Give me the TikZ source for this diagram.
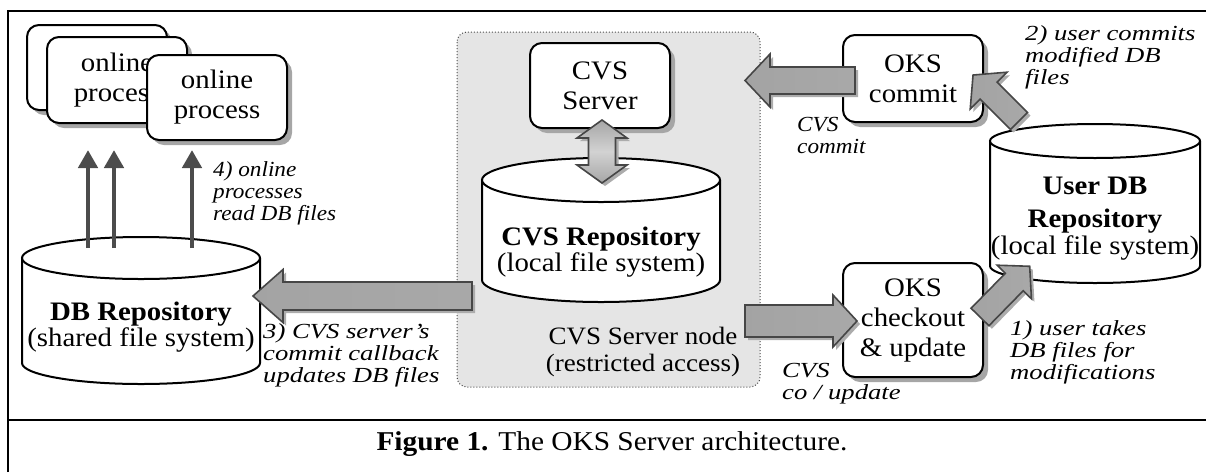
\documentclass[tikz,border=0pt]{standalone}
\usepackage{fontspec}
\setmainfont{Liberation Serif}[FakeStretch=1.08]
\newfontfamily\widefont{Liberation Serif}[FakeStretch=1.24]
\usetikzlibrary{shadows,arrows.meta}

\newcommand\mycyl[5]{% cx, rx, ytop, ybottom, ry
  \fill[white] (#1,#4) ellipse[x radius=#2, y radius=#5];
  \fill[white] (#1-#2,#3) rectangle (#1+#2,#4);
  \draw[line width=2pt] (#1-#2,#3) -- (#1-#2,#4) arc[start angle=180,end angle=0,x radius=#2,y radius=#5] -- (#1+#2,#3);
  \draw[line width=2pt,fill=white] (#1,#3) ellipse[x radius=#2, y radius=#5];
}

% fat arrow: tail x, tail y, angle, length, shaft half width, head half width, head length
\newcommand\fatarr[7]{%
  \begin{scope}[shift={(#1+3,#2+3)},rotate=#3]
    \fill[fatshadow] (0,-#5) -- (#4-#7,-#5) -- (#4-#7,-#6) -- (#4,0) -- (#4-#7,#6) -- (#4-#7,#5) -- (0,#5) -- cycle;
  \end{scope}
  \begin{scope}[shift={(#1,#2)},rotate=#3]
    \draw[fatbody] (0,-#5) -- (#4-#7,-#5) -- (#4-#7,-#6) -- (#4,0) -- (#4-#7,#6) -- (#4-#7,#5) -- (0,#5) -- cycle;
  \end{scope}}

\tikzset{
  proc/.style={draw=black, line width=2pt, fill=white, rounded corners=12pt, inner sep=0pt,
    align=center, font=\fontsize{26.7}{30}\selectfont, minimum width=140pt,
    drop shadow={shadow xshift=5pt, shadow yshift=-5pt, fill=gray!70, opacity=1}},
  lbl/.style={font=\fontsize{21.5}{22}\selectfont\itshape, align=left, inner sep=0pt, anchor=north west},
  wlbl/.style={lbl, font=\widefont\fontsize{21.5}{22}\selectfont\itshape},
  fatbody/.style={draw=gray!55!black, line width=1.6pt, line join=miter,
    left color=gray!72, middle color=gray!35, right color=gray!68},
  fatshadow/.style={fill=gray!65},
  cyltext/.style={align=center, inner sep=0pt, font=\fontsize{26.7}{23}\selectfont},
  thin/.style={draw=gray!60!black, line width=4.5pt, -{Triangle[length=18pt,width=19pt]}},
  frame/.style={line width=2.8pt},
}

\begin{document}
\begin{tikzpicture}[x=1pt,y=-1pt]
\useasboundingbox (0,0) rectangle (1206,472);
% frame
\draw[frame] (8,472) -- (8,11) -- (1206,11);
\draw[frame] (8,420) -- (1206,420);
\node[font=\fontsize{27.2}{30}\selectfont] (cap) at (612,444) {\textbf{Figure 1.} The OKS Server architecture.};

% CVS server node region
\draw[fill=gray!20, draw=gray!60!black, dotted, line width=1pt, rounded corners=10pt] (457,32) rectangle (760,387);
\node[align=center, inner sep=0pt, font=\fontsize{25}{27}\selectfont] (nodetxt) at (643,352) {CVS Server node\\(restricted access)};

% CVS server box and repository
\node[proc, minimum height=85pt] (cvss) at (600,85.5) {CVS\\Server};
\mycyl{601}{119}{180}{280}{22}
\node[cyltext] (cvsrepo) at (601,252) {\textbf{CVS Repository}\\(local file system)};
% double arrow between server and repository
\begin{scope}[shift={(605,123)}]
  \fill[fatshadow] (0,0) -- (25,18) -- (13.5,18) -- (13.5,45) -- (25,45) -- (0,63) -- (-25,45) -- (-13.5,45) -- (-13.5,18) -- (-25,18) -- cycle;
\end{scope}
\begin{scope}[shift={(602,120)}]
  \draw[fatbody, top color=gray!70, bottom color=gray!70, middle color=gray!35] (0,0) -- (25,18) -- (13.5,18) -- (13.5,45) -- (25,45) -- (0,63) -- (-25,45) -- (-13.5,45) -- (-13.5,18) -- (-25,18) -- cycle;
\end{scope}

% DB repository
\mycyl{141}{119}{258}{363}{21}
\node[cyltext] (dbrepo) at (141,327) {\textbf{DB Repository}\\(shared file system)};

% online processes
\node[proc, minimum height=85pt] (p1) at (97,67.5) {};
\node[proc, minimum height=86pt] (p2) at (117,80) {online\\process};
\node[proc, minimum height=85pt] (p3) at (217,97.5) {online\\process};

\coordinate (s1) at (88,248);
\coordinate (s2) at (114,248);
\coordinate (s3) at (192,248);
\coordinate (t1) at (88,150);
\coordinate (t2) at (114,150);
\coordinate (t3) at (192,150);
\draw[thin] (s1) -- (t1);
\draw[thin] (s2) -- (t2);
\draw[thin] (s3) -- (t3);
\node[lbl] (l4) at (213,161.5) {4) online\\processes\\read DB files};

% arrow 3
\fatarr{472}{296}{180}{219}{14}{26.5}{30}
\node[wlbl] (l3) at (263,323.5) {3) CVS server’s\\commit callback\\updates DB files};

% User DB repository
\mycyl{1095}{105}{141}{266}{17}
\node[cyltext, font=\fontsize{26.7}{33}\bfseries] (userdb) at (1095,205) {User DB\\Repository};
\node[cyltext, anchor=north] (userdbsub) at (1095,235) {(local file system)};

% OKS boxes
\node[proc, minimum height=87pt] (okscommit) at (913,78.5) {OKS\\commit};
\node[proc, minimum height=114pt] (okscheck) at (913,320) {OKS\\checkout\\\& update};

% fat arrows right side
\fatarr{855}{80.5}{180}{110}{13.5}{26.5}{25}
\node[lbl] (lcommit) at (797,117.5) {CVS\\commit};
\fatarr{745}{321}{0}{112}{16}{26}{24}
\node[wlbl] (lco) at (782,363.5) {CVS\\co / update};
\fatarr{980}{317}{45.6}{71}{12.5}{24}{22}
\node[wlbl] (l1) at (1010,320.5) {1) user takes\\DB files for\\modifications};
\fatarr{1019}{121}{135}{65}{12}{26}{22}
\node[wlbl] (l2) at (1025,25.5) {2) user commits\\modified DB\\files};
\end{tikzpicture}
\end{document}
